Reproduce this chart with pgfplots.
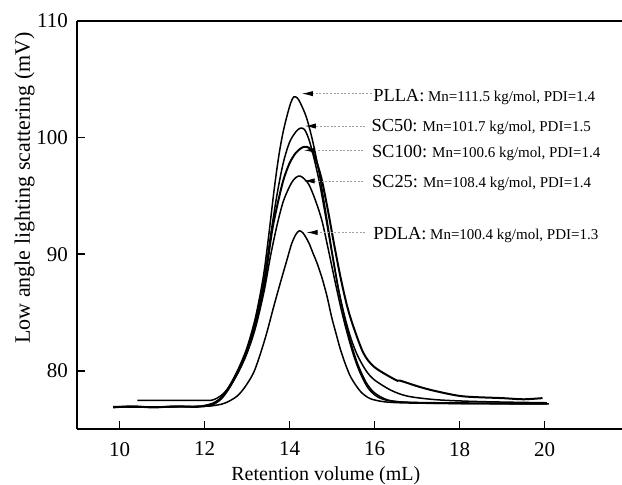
\documentclass[border=0pt]{standalone}
\usepackage{fontspec}
\setmainfont{Liberation Serif}
\usepackage{pgfplots}
\pgfplotsset{compat=1.18}
\usetikzlibrary{arrows.meta}
\begin{document}
\begin{tikzpicture}
\begin{axis}[
  at={(0,0)}, anchor=south west,
  scale only axis, width=272.5pt, height=204pt,
  xmin=9, xmax=21.82, ymin=75, ymax=110,
  separate axis lines,
  axis x line*=box, axis y line*=left,
  axis line style={line width=1pt, black},
  xtick={10,12,...,20}, ytick={80,90,100,110},
  tick align=inside, major tick length=4pt,
  xtick pos=left, ytick pos=left,
  tick style={line width=0.8pt, black},
  /pgf/number format/assume math mode=true,
  ticklabel style={font=\fontsize{10.5}{12}\selectfont},
  xticklabel style={yshift=-3pt},
  yticklabel style={xshift=-1pt},
  clip=false,
  curve/.style={black, line width=0.75pt, no markers, smooth, tension=0.5},
]
% PLLA
\addplot[curve] coordinates {(9.85,76.9) (10.5,76.88) (11,76.9) (11.5,76.92) (12,76.95) (12.2,77.1) (12.4,77.7) (12.6,78.8) (12.8,80.2) (13.0,82.0) (13.2,84.6) (13.38,88.0) (13.5,91.3) (13.64,95.6) (13.75,98.5) (13.85,100.5) (13.95,102.0) (14.03,103.0) (14.1,103.5) (14.18,103.4) (14.25,103.0) (14.4,101.7) (14.55,99.6) (14.7,96.9) (14.85,93.6) (15.0,90.2) (15.15,87.0) (15.3,84.4) (15.45,82.3) (15.6,80.6) (15.8,79.0) (16.0,78.1) (16.3,77.5) (16.7,77.3) (17.5,77.2) (18.5,77.17) (20.05,77.15)};
% SC50
\addplot[curve] coordinates {(9.85,76.92) (11,76.9) (12,76.95) (12.2,77.1) (12.4,77.6) (12.6,78.6) (12.8,80.0) (13.0,81.8) (13.2,84.3) (13.4,87.8) (13.55,91.5) (13.7,95.0) (13.85,97.8) (14.0,99.6) (14.15,100.5) (14.25,100.8) (14.35,100.7) (14.45,99.9) (14.55,98.6) (14.7,96.2) (14.85,93.2) (15.0,90.0) (15.15,87.0) (15.3,84.6) (15.45,82.7) (15.6,81.3) (15.8,80.0) (16.0,79.2) (16.4,78.3) (16.8,77.8) (17.5,77.5) (18.5,77.35) (20.05,77.25)};
% SC100 (noisy, long tail)
\addplot[curve, line width=1pt] coordinates {(9.85,76.85) (10.3,76.95) (10.8,76.85) (11.3,76.95) (11.8,76.9) (12,77.0) (12.2,77.2) (12.4,77.7) (12.6,78.7) (12.8,80.0) (13.0,81.7) (13.2,84.0) (13.4,87.3) (13.58,91.8) (13.7,94.0) (13.85,96.3) (14.0,97.8) (14.15,98.7) (14.3,99.15) (14.4,99.2) (14.5,99.0) (14.6,98.3) (14.75,96.5) (14.9,93.8) (15.05,90.8) (15.2,88.0) (15.35,85.6) (15.5,83.8) (15.74,81.5) (16.0,80.3) (16.5,79.2) (16.6,79.15) (17.07,78.6) (17.5,78.2) (18.09,77.8) (19,77.65) (19.5,77.55) (19.95,77.65)};
% SC25
\addplot[curve] coordinates {(10.42,77.45) (11,77.45) (12,77.45) (12.2,77.5) (12.4,77.9) (12.6,78.7) (12.8,79.9) (13.0,81.5) (13.2,83.7) (13.4,86.8) (13.55,89.8) (13.7,92.4) (13.85,94.5) (14.0,95.8) (14.1,96.4) (14.21,96.7) (14.3,96.6) (14.45,96.0) (14.6,94.7) (14.76,92.9) (14.9,90.6) (15.05,88.0) (15.2,85.5) (15.35,83.3) (15.5,81.4) (15.65,79.9) (15.85,78.5) (16.1,77.7) (16.5,77.35) (17.5,77.25) (20.05,77.2)};
% PDLA
\addplot[curve] coordinates {(9.85,76.9) (11,76.9) (12,76.95) (12.29,77.05) (12.5,77.25) (12.76,77.8) (12.95,78.6) (13.15,79.8) (13.3,81.3) (13.46,83.2) (13.62,85.4) (13.78,87.5) (13.93,89.4) (14.05,90.9) (14.15,91.7) (14.23,92.0) (14.32,91.8) (14.45,91.0) (14.56,90.0) (14.64,89.3) (14.76,88.0) (14.88,86.4) (14.99,84.6) (15.1,83.1) (15.19,81.9) (15.3,80.7) (15.42,79.6) (15.55,78.8) (15.7,78.1) (15.9,77.6) (16.2,77.35) (16.6,77.25) (17.5,77.2) (20.1,77.15)};

% annotations
\tikzset{ann/.style={gray!75, line width=0.4pt, dash pattern=on 1pt off 0.8pt, -{Latex[length=5.5pt,width=2.6pt,color=black]}},
         lab/.style={anchor=base west, inner sep=0pt, font=\fontsize{7.5}{9}\selectfont}}
\draw[ann] (axis cs:15.93,103.77) -- (axis cs:14.29,103.77);
\draw[ann] (axis cs:15.78,100.99) -- (axis cs:14.36,100.99);
\draw[ann] (axis cs:15.73,98.91) -- (axis cs:14.34,98.91);
\draw[ann] (axis cs:15.73,96.28) -- (axis cs:14.33,96.28);
\draw[ann] (axis cs:15.78,91.86) -- (axis cs:14.40,91.86);
\node[lab] at (axis cs:15.96,103.08) {{\fontsize{9.2}{11}\selectfont PLLA:} Mn=111.5 kg/mol, PDI=1.4};
\node[lab] at (axis cs:15.92,100.54) {{\fontsize{9.2}{11}\selectfont SC50:} Mn=101.7 kg/mol, PDI=1.5};
\node[lab] at (axis cs:15.93,98.25) {{\fontsize{9.2}{11}\selectfont SC100:} Mn=100.6 kg/mol, PDI=1.4};
\node[lab] at (axis cs:15.93,95.68) {{\fontsize{9.2}{11}\selectfont SC25:} Mn=108.4 kg/mol, PDI=1.4};
\node[lab] at (axis cs:15.96,91.26) {{\fontsize{9.2}{11}\selectfont PDLA:} Mn=100.4 kg/mol, PDI=1.3};
\end{axis}
\node[anchor=base, font=\fontsize{10}{12}\selectfont] at (124.4pt,-25.5pt) {Retention volume (mL)};
\node[anchor=base, rotate=90, font=\fontsize{11}{13}\selectfont] at (-23.5pt,120.5pt) {Low angle lighting scattering (mV)};
\pgfresetboundingbox
\path[use as bounding box] (-38.5pt,-27.5pt) rectangle (272.5pt,214.5pt);
\end{tikzpicture}
\end{document}
